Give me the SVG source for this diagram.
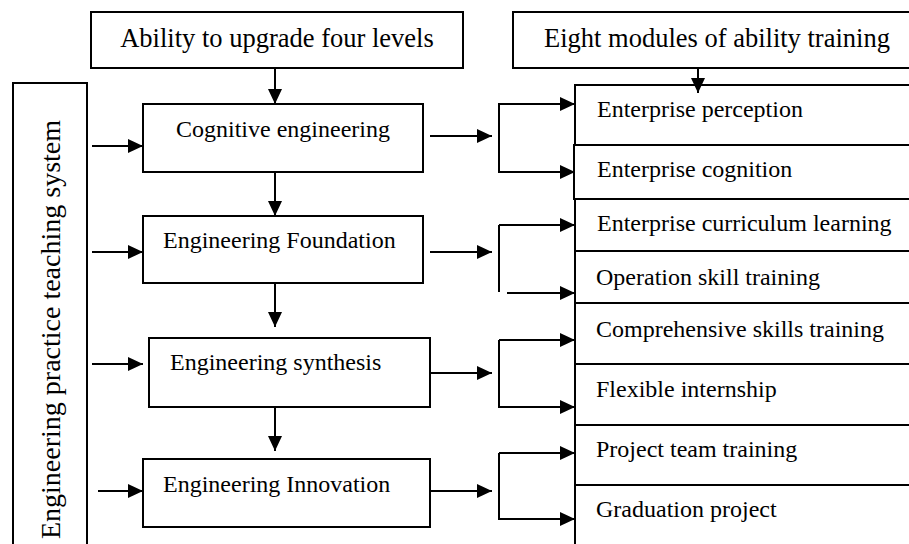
<svg xmlns="http://www.w3.org/2000/svg" width="909" height="544" viewBox="0 0 909 544">
<style>
.box{fill:#fff;stroke:#000;stroke-width:2}
.t{font-family:"Liberation Serif","Times New Roman",serif;font-size:24px;fill:#000}
.big{font-size:26.5px}
.vert{font-size:28px}
.c{stroke:#000;stroke-width:2;fill:none}
.a{stroke:#000;stroke-width:2;fill:none;marker-end:url(#ah)}
</style>
<defs>
<marker id="ah" markerUnits="userSpaceOnUse" markerWidth="15" markerHeight="14" refX="15" refY="7" orient="auto" viewBox="0 0 15 14">
<path d="M0,0 L15,7 L0,14 z" fill="#000"/>
</marker>
</defs>
<rect width="909" height="544" fill="#fff"/>
<g id="title-levels"><rect class="box" x="91" y="12" width="372" height="56"/><text class="t big" x="277" y="47" text-anchor="middle">Ability to upgrade four levels</text></g>
<g id="title-modules"><rect class="box" x="513" y="12" width="420" height="56"/><text class="t big" x="544" y="47">Eight modules of ability training</text></g>
<g id="system"><rect class="box" x="13" y="83" width="74" height="480"/><text class="t vert" transform="translate(60,329.5) rotate(-90)" text-anchor="middle">Engineering practice teaching system</text></g>
<g id="cognitive"><rect class="box" x="143" y="104" width="280" height="68"/><text class="t" x="176" y="137">Cognitive engineering</text></g>
<g id="foundation"><rect class="box" x="143" y="216" width="280" height="67"/><text class="t" x="163" y="248">Engineering Foundation</text></g>
<g id="synthesis"><rect class="box" x="149" y="338" width="281" height="69"/><text class="t" x="170" y="370">Engineering synthesis</text></g>
<g id="innovation"><rect class="box" x="143" y="459" width="287" height="68"/><text class="t" x="163" y="492">Engineering Innovation</text></g>
<g id="m1"><rect class="box" x="575" y="85" width="350" height="60"/><text class="t" x="597" y="117">Enterprise perception</text></g>
<g id="m2"><rect class="box" x="574" y="145" width="350" height="54"/><text class="t" x="597" y="177">Enterprise cognition</text></g>
<g id="m3"><rect class="box" x="575" y="199" width="350" height="52"/><text class="t" x="597" y="231">Enterprise curriculum learning</text></g>
<g id="m4"><rect class="box" x="575" y="251" width="350" height="52"/><text class="t" x="596" y="285">Operation skill training</text></g>
<g id="m5"><rect class="box" x="575" y="303" width="350" height="61"/><text class="t" x="596" y="337">Comprehensive skills training</text></g>
<g id="m6"><rect class="box" x="575" y="364" width="350" height="61"/><text class="t" x="596" y="397">Flexible internship</text></g>
<g id="m7"><rect class="box" x="575" y="425" width="350" height="60"/><text class="t" x="596" y="457">Project team training</text></g>
<g id="m8"><rect class="box" x="575" y="485" width="350" height="80"/><text class="t" x="596" y="517">Graduation project</text></g>
<g id="connectors">
<line class="a" x1="275" y1="68" x2="275" y2="104"/>
<line class="a" x1="275" y1="172" x2="275" y2="216"/>
<line class="a" x1="275" y1="283" x2="275" y2="327"/>
<line class="a" x1="275" y1="407" x2="275" y2="451"/>
<line class="a" x1="698" y1="68" x2="698" y2="93"/>
<line class="a" x1="92" y1="146" x2="143" y2="146"/>
<line class="a" x1="92" y1="252" x2="143" y2="252"/>
<line class="a" x1="92" y1="364" x2="143" y2="364"/>
<line class="a" x1="98" y1="491" x2="143" y2="491"/>
<line class="a" x1="430" y1="136" x2="492" y2="136"/>
<line class="a" x1="430" y1="252" x2="492" y2="252"/>
<line class="a" x1="430" y1="373" x2="492" y2="373"/>
<line class="a" x1="430" y1="491" x2="492" y2="491"/>
<polyline class="a" points="575,104 499,104 499,172 575,172" marker-end="url(#ah)"/>
<line class="a" x1="499" y1="104" x2="575" y2="104"/>
<polyline class="c" points="499,292 499,225"/>
<line class="a" x1="499" y1="225" x2="575" y2="225"/>
<line class="a" x1="507" y1="293" x2="575" y2="293"/>
<polyline class="a" points="499,340 499,407 575,407"/>
<line class="a" x1="499" y1="340" x2="575" y2="340"/>
<polyline class="a" points="499,453 499,519 575,519"/>
<line class="a" x1="499" y1="453" x2="575" y2="453"/>
</g>
</svg>
